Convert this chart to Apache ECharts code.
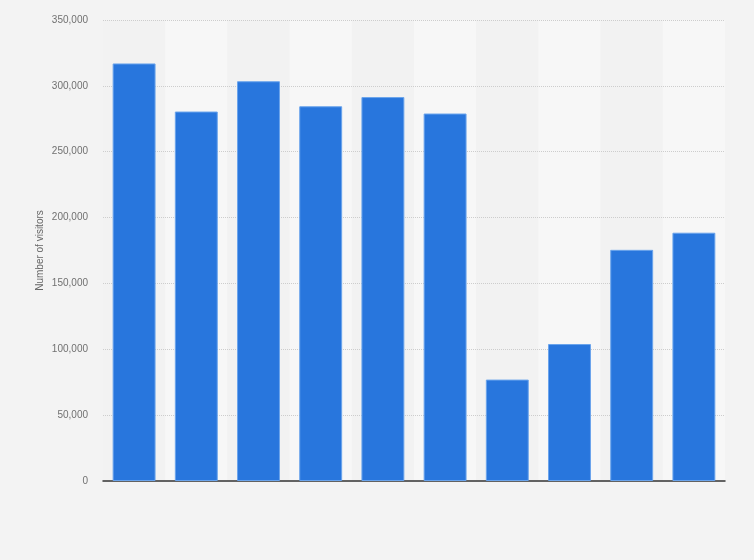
<!DOCTYPE html>
<html>
<head>
<meta charset="utf-8">
<script src="https://cdn.jsdelivr.net/npm/echarts@6/dist/echarts.min.js"></script>
<style>
html,body{margin:0;padding:0;background:#f3f3f3;}
#c{width:754px;height:560px;}
</style>
</head>
<body>
<div id="c"></div>
<script>
const categories = ['1','2','3','4','5','6','7','8','9','10'];
const visitors = [317000, 280500, 303500, 284500, 291500, 279000, 77000, 104000, 175500, 188500];
const yTicks = [0, 50000, 100000, 150000, 200000, 250000, 300000, 350000];

const chart = echarts.init(document.getElementById('c'));
chart.setOption({
  backgroundColor: '#f3f3f3',
  animation: false,
  grid: {left: 103, right: 29, top: 20, bottom: 79},
  xAxis: {
    type: 'category',
    data: categories,
    z: 0,
    axisLine: {show: true, lineStyle: {color: '#333', width: 1.5}},
    axisTick: {show: false},
    axisLabel: {show: false},
    splitArea: {show: true, areaStyle: {color: ['#f2f2f2', '#f7f7f7']}}
  },
  yAxis: {
    type: 'value',
    z: 1,
    min: yTicks[0],
    max: yTicks[yTicks.length - 1],
    interval: 50000,
    name: 'Number of visitors',
    nameLocation: 'middle',
    nameMoveOverlap: false,
    nameGap: 58,
    nameTextStyle: {color: '#666', fontSize: 10, fontFamily: 'Liberation Sans, Arial, sans-serif'},
    axisLine: {show: false},
    axisTick: {show: false},
    axisLabel: {
      color: '#707070', fontSize: 10, margin: 15,
      fontFamily: 'Liberation Sans, Arial, sans-serif',
      formatter: v => v.toLocaleString('en-US')
    },
    splitLine: {show: true, showMinLine: false, lineStyle: {color: '#cdcdcd', type: [1, 1], width: 1}}
  },
  series: [{
    type: 'bar',
    z: 2,
    data: visitors,
    barWidth: '69%',
    itemStyle: {color: '#2876dd', borderColor: '#6aa4ec', borderWidth: 1}
  }]
});
</script>
</body>
</html>
